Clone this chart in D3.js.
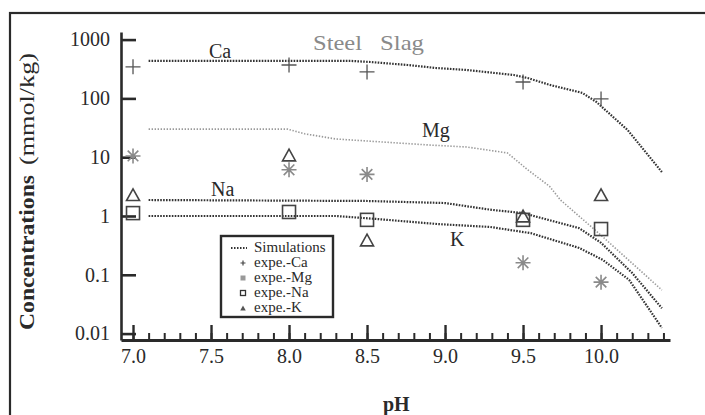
<!DOCTYPE html>
<html><head><meta charset="utf-8">
<script src="https://cdn.jsdelivr.net/npm/d3@7/dist/d3.min.js"></script>
<style>
html,body{margin:0;padding:0;background:#fff;}
svg{display:block;font-family:"Liberation Serif","Times New Roman",serif;}
</style></head>
<body>
<svg id="chart" width="705" height="415"></svg>
<script>
// ---- data ----
const expPH = [7.0, 8.0, 8.5, 9.5, 10.0];
const expCa = [344, 370, 282, 190, 98];
const expMg = [10.5, 6.1, 5.1, 0.16, 0.075];
const expNa = [1.12, 1.17, 0.86, 0.86, 0.6];
const expK  = [2.3, 10.9, 0.39, 1.0, 2.3];

const simCaPH = [7.1, 8.4, 8.52, 8.76, 8.94, 9.14, 9.44, 9.53, 9.67, 9.88, 9.97, 10.17, 10.39];
const simCa   = [433, 433, 416, 370, 329, 304, 250, 222, 170, 124, 87, 29, 5.6];
const simMgPH = [7.1, 7.99, 8.1, 8.3, 8.9, 9.14, 9.4, 9.53, 9.67, 9.74, 10.0, 10.39];
const simMg   = [30, 30, 25, 20.4, 16.1, 14.9, 11.8, 6.1, 3.2, 1.87, 0.47, 0.055];
const simNaPH = [7.1, 8.5, 9.0, 9.3, 9.5, 9.86, 10.0, 10.2, 10.39];
const simNa   = [1.87, 1.8, 1.66, 1.27, 1.12, 0.62, 0.35, 0.107, 0.027];
const simKPH  = [7.1, 8.3, 8.56, 8.95, 9.29, 9.55, 9.86, 10.01, 10.18, 10.39];
const simK    = [1.0, 1.0, 0.89, 0.73, 0.65, 0.51, 0.286, 0.18, 0.082, 0.0125];

const xMajor = [7.0, 7.5, 8.0, 8.5, 9.0, 9.5, 10.0];
const yTicks = [1000, 100, 10, 1, 0.1, 0.01];
const yTickLabels = ["1000", "100", "10", "1", "0.1", "0.01"];
const legendLabels = ["Simulations", "expe.-Ca", "expe.-Mg", "expe.-Na", "expe.-K"];

// ---- chart ----
const svg = d3.select("#chart");
const x = d3.scaleLinear().domain([6.923, 10.442]).range([121, 670]);
const y = d3.scaleLog().domain([0.00778, 1346]).range([340, 32]);
const ink = "#2a2a2a";
const serif = "Liberation Serif";

// outer frame
svg.append("rect").attr("x", 10).attr("y", 13).attr("width", 700).attr("height", 420)
  .attr("fill", "none").attr("stroke", ink).attr("stroke-width", 2.2);

// simulation curves
const line = d3.line().x(d => x(d[0])).y(d => y(d[1]));
function sim(ph, vals, color, w, dash) {
  svg.append("path").datum(ph.map((p, i) => [p, vals[i]])).attr("d", line)
    .attr("fill", "none").attr("stroke", color).attr("stroke-width", w)
    .attr("stroke-dasharray", dash);
}
sim(simMgPH, simMg, "#9a9a9a", 1.6, "1.4,1.6");
sim(simCaPH, simCa, "#333", 2.2, "1.6,1.3");
sim(simNaPH, simNa, "#333", 2.2, "1.6,1.3");
sim(simKPH, simK, "#333", 2.2, "1.6,1.3");

// axes
const yAxis = d3.axisLeft(y).tickValues(yTicks).tickFormat((d, i) => yTickLabels[i])
  .tickSizeInner(-15).tickSizeOuter(0).tickPadding(11);
const gy = svg.append("g").attr("transform", "translate(121,0)").call(yAxis)
  .attr("font-family", serif);
gy.select(".domain").attr("stroke", ink).attr("stroke-width", 2.6);
gy.selectAll(".tick line").attr("stroke", ink).attr("stroke-width", 2.6);
gy.selectAll(".tick text").attr("font-size", 20).attr("fill", ink);

const xMinor = d3.range(70, 105).map(v => v / 10);
const gxm = svg.append("g").attr("transform", "translate(0,340)")
  .call(d3.axisBottom(x).tickValues(xMinor).tickSizeInner(-7).tickSizeOuter(0).tickFormat(""));
gxm.selectAll(".tick line").attr("stroke", ink).attr("stroke-width", 2);
gxm.select(".domain").remove();
const gx = svg.append("g").attr("transform", "translate(0,340)")
  .call(d3.axisBottom(x).tickValues(xMajor).tickFormat(d3.format(".1f"))
    .tickSizeInner(-15).tickSizeOuter(0).tickPadding(9))
  .attr("font-family", serif);
gx.select(".domain").attr("stroke", ink).attr("stroke-width", 3);
gx.selectAll(".tick line").attr("stroke", ink).attr("stroke-width", 2.4);
gx.selectAll(".tick text").attr("font-size", 20).attr("fill", ink);

// markers
function plus(g, cx, cy, r) {
  g.append("path").attr("d", `M${cx - r},${cy}H${cx + r}M${cx},${cy - r}V${cy + r}`);
}
function star(g, cx, cy, r) {
  const d = r * 0.707;
  g.append("path").attr("d",
    `M${cx - r},${cy}H${cx + r}M${cx},${cy - r}V${cy + r}M${cx - d},${cy - d}L${cx + d},${cy + d}M${cx - d},${cy + d}L${cx + d},${cy - d}`);
}
function square(g, cx, cy, s) {
  g.append("rect").attr("x", cx - s / 2).attr("y", cy - s / 2).attr("width", s).attr("height", s);
}
function tri(g, cx, cy, s) {
  const h = s * 0.9;
  g.append("path").attr("d", `M${cx},${cy - h / 2}L${cx + s / 2},${cy + h / 2}L${cx - s / 2},${cy + h / 2}Z`);
}
const gCa = svg.append("g").attr("stroke", "#555").attr("stroke-width", 1.3).attr("fill", "none");
const gMg = svg.append("g").attr("stroke", "#8a8a8a").attr("stroke-width", 1.6).attr("fill", "none");
const gNa = svg.append("g").attr("stroke", "#444").attr("stroke-width", 1.6).attr("fill", "none");
const gK  = svg.append("g").attr("stroke", "#444").attr("stroke-width", 1.6).attr("fill", "none");
expPH.forEach((p, i) => {
  plus(gCa, x(p), y(expCa[i]), 7.5);
  star(gMg, x(p), y(expMg[i]), 7.5);
  square(gNa, x(p), y(expNa[i]), 13);
  tri(gK, x(p), y(expK[i]), 13);
});

// curve labels
function label(t, px, py, opts = {}) {
  const el = svg.append("text").attr("x", px).attr("y", py).text(t)
    .attr("font-size", opts.size || 20).attr("fill", opts.fill || ink)
    .attr("font-weight", opts.weight || "normal");
  if (opts.len) el.attr("textLength", opts.len).attr("lengthAdjust", "spacingAndGlyphs");
  if (opts.anchor) el.attr("text-anchor", opts.anchor);
  return el;
}
label("Ca", 209, 58);
label("Mg", 422, 137);
label("Na", 211, 196);
label("K", 450, 246);
label("Steel", 313, 50, {fill: "#8a8a8a", len: 49, size: 21});
label("Slag", 380, 50, {fill: "#8a8a8a", len: 44, size: 21});

// axis titles
label("pH", 383, 411, {weight: "bold"});
svg.append("text").attr("transform", "translate(34,330) rotate(-90)")
  .attr("font-size", 21).attr("font-weight", "bold").attr("fill", ink)
  .attr("textLength", 155).attr("lengthAdjust", "spacingAndGlyphs").text("Concentrations");
svg.append("text").attr("transform", "translate(34,165) rotate(-90)")
  .attr("font-size", 21).attr("fill", ink)
  .attr("textLength", 112).attr("lengthAdjust", "spacingAndGlyphs").text("(mmol/kg)");

// legend
const lg = svg.append("g");
lg.append("rect").attr("x", 221).attr("y", 236).attr("width", 112).attr("height", 81)
  .attr("fill", "#fff").attr("stroke", ink).attr("stroke-width", 2.4);
const rowY = [247, 262, 277, 292, 307];
legendLabels.forEach((t, i) => {
  lg.append("text").attr("x", 254).attr("y", rowY[i] + 5).attr("font-size", 15)
    .attr("fill", ink).text(t);
});
lg.append("line").attr("x1", 231).attr("x2", 247).attr("y1", rowY[0] + 1).attr("y2", rowY[0] + 1)
  .attr("stroke", "#333").attr("stroke-width", 1.8).attr("stroke-dasharray", "1.5,1.5");
const lx = 243;
const lgCa = lg.append("g").attr("stroke", "#444").attr("stroke-width", 1.2).attr("fill", "none");
plus(lgCa, lx, rowY[1] + 1, 2.5);
lg.append("rect").attr("x", lx - 2.5).attr("y", rowY[2] - 1.5).attr("width", 5).attr("height", 5).attr("fill", "#999");
lg.append("rect").attr("x", lx - 2.5).attr("y", rowY[3] - 1.5).attr("width", 5).attr("height", 5)
  .attr("fill", "none").attr("stroke", "#333").attr("stroke-width", 1.3);
const lgK = lg.append("g").attr("fill", "#555").attr("stroke", "none");
tri(lgK, lx, rowY[4] + 1, 5.5);
</script>
</body></html>
